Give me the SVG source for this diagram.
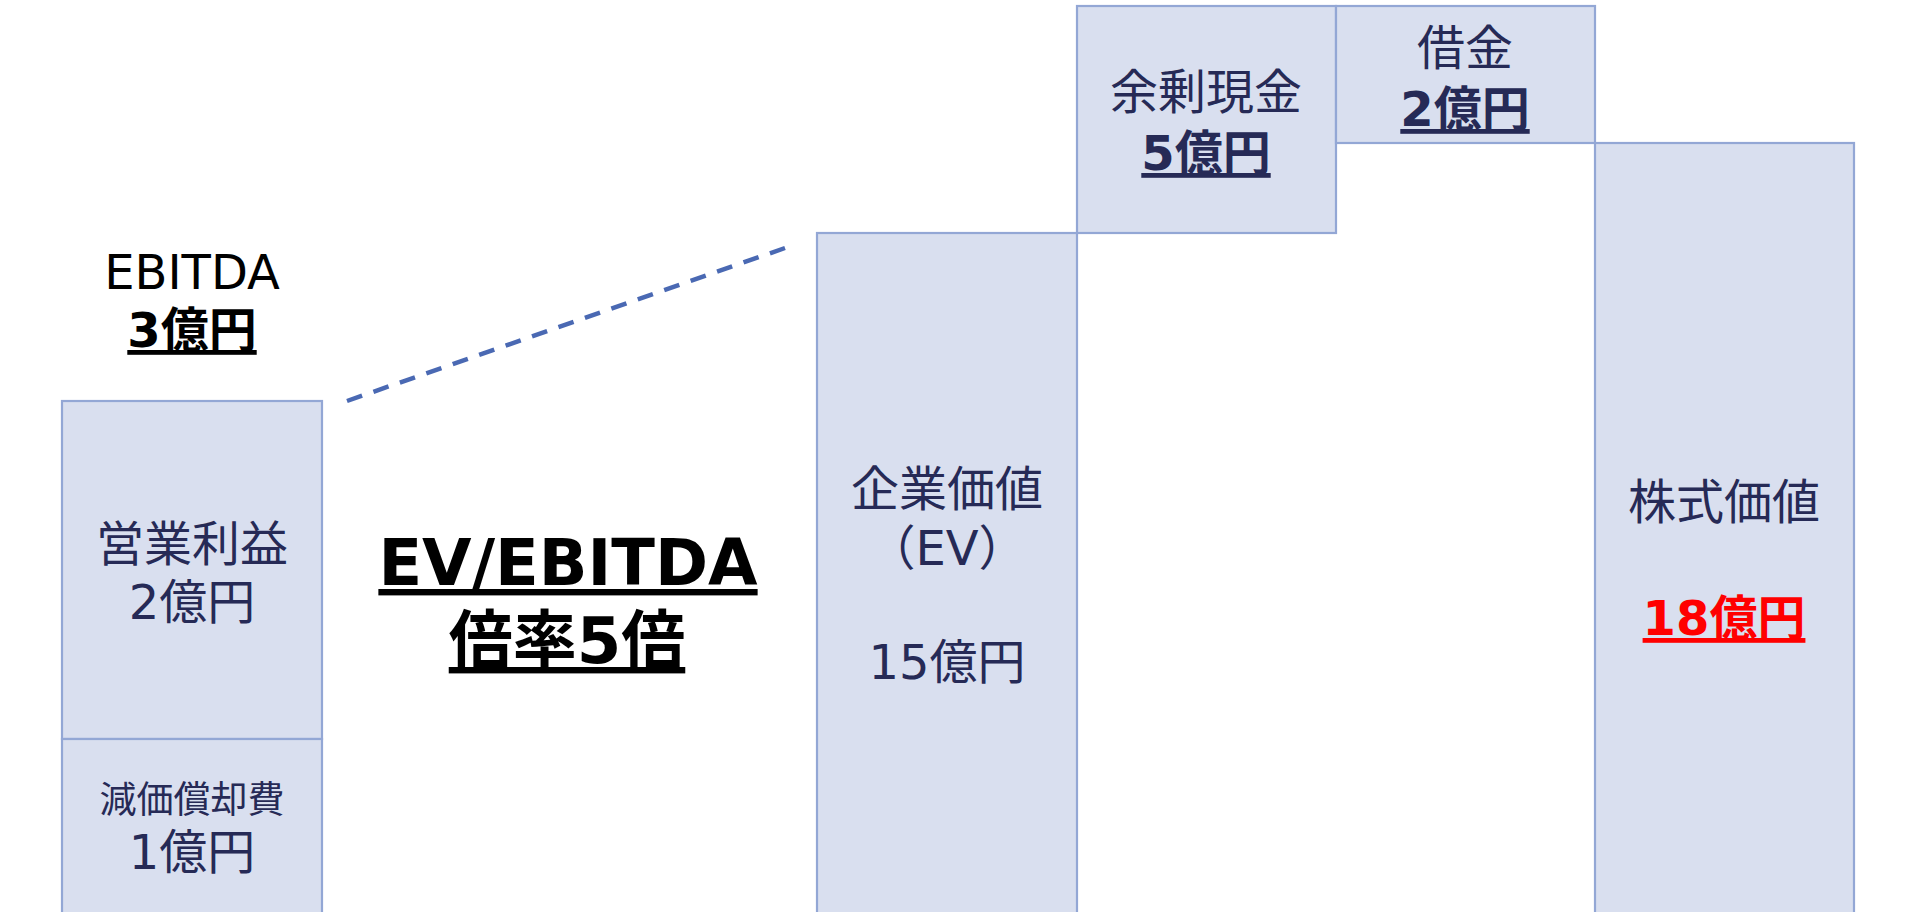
<svg xmlns="http://www.w3.org/2000/svg" width="1929" height="912" viewBox="0 0 1929 912">
<style>
.box{fill:#D9DFEF;stroke:#93A7D5;stroke-width:2.2}
text{font-family:'DejaVu Sans','Noto Sans CJK JP',sans-serif;text-anchor:middle}
.t{fill:#262A56;font-size:48px}
.tb{fill:#262A56;font-size:48px;font-weight:bold;text-decoration:underline}
.s{fill:#262A56;font-size:37px}
.blk{fill:#000;font-size:48px}
.blkb{fill:#000;font-size:48px;font-weight:bold;text-decoration:underline}
.big{fill:#000;font-size:64px;font-weight:bold;text-decoration:underline}
.red{fill:#FF0000;font-size:48px;font-weight:bold;text-decoration:underline}
.dash{fill:none;stroke:#4A69B3;stroke-width:4.5;stroke-dasharray:16 12}
</style>
<rect width="1929" height="912" fill="#FFFFFF"/>
<g id="connectors">
<line class="dash" x1="347" y1="401" x2="785" y2="248"/>
</g>
<g id="ebitda-label">
<text class="blk" x="192" y="289">EBITDA</text>
<text class="blkb" x="192" y="347">3億円</text>
</g>
<g id="operating-profit">
<rect class="box" x="62" y="401" width="260" height="338"/>
<text class="t" x="192" y="561">営業利益</text>
<text class="t" x="192" y="619">2億円</text>
</g>
<g id="depreciation">
<rect class="box" x="62" y="739" width="260" height="190"/>
<text class="s" x="192" y="813">減価償却費</text>
<text class="t" x="192" y="869">1億円</text>
</g>
<g id="multiple-label">
<text class="big" x="568" y="585">EV/EBITDA</text>
<text class="big" x="567" y="663">倍率5倍</text>
</g>
<g id="enterprise-value">
<rect class="box" x="817" y="233" width="260" height="700"/>
<text class="t" x="947" y="506">企業価値</text>
<text class="t" x="947" y="565">（EV）</text>
<text class="t" x="947" y="679">15億円</text>
</g>
<g id="surplus-cash">
<rect class="box" x="1077" y="6" width="259" height="227"/>
<text class="t" x="1206" y="109">余剰現金</text>
<text class="tb" x="1206" y="170">5億円</text>
</g>
<g id="debt">
<rect class="box" x="1336" y="6" width="259" height="137"/>
<text class="t" x="1465" y="65">借金</text>
<text class="tb" x="1465" y="126">2億円</text>
</g>
<g id="equity-value">
<rect class="box" x="1595" y="143" width="259" height="790"/>
<text class="t" x="1724" y="519">株式価値</text>
<text class="red" x="1724" y="635">18億円</text>
</g>
</svg>
